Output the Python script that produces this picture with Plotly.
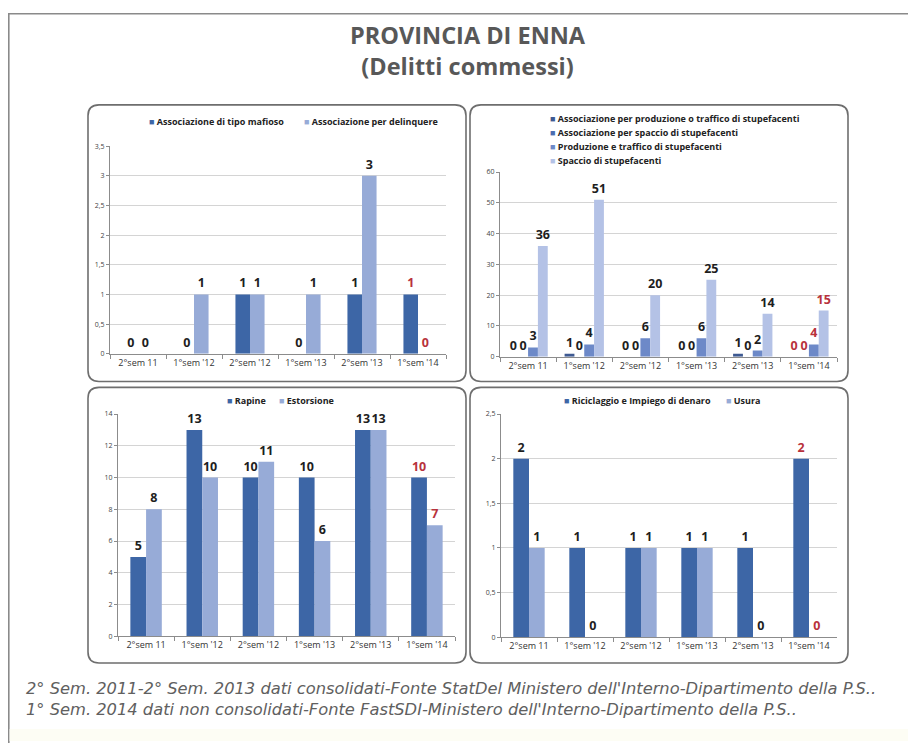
import plotly.graph_objects as go

# Reference canvas is 916x751; the page body adds an 8px margin, so the
# figure is drawn 900x735 and positioned from reference pixel (8, 8).
REF_W, REF_H = 916, 751
OFF = 8
W, H = REF_W - 2 * OFF, REF_H - 2 * OFF

categories = ["2°sem 11", "1°sem '12", "2°sem '12", "1°sem '13", "2°sem '13", "1°sem '14"]

# Panel 1
mafioso = [0, 0, 1, 0, 1, 1]
delinquere = [0, 1, 1, 1, 3, 0]
# Panel 2
assoc_prod_traffico = [0, 1, 0, 0, 1, 0]
assoc_spaccio = [0, 0, 0, 0, 0, 0]
prod_traffico = [3, 4, 6, 6, 2, 4]
spaccio = [36, 51, 20, 25, 14, 15]
# Panel 3
rapine = [5, 13, 10, 10, 13, 10]
estorsione = [8, 10, 11, 6, 13, 7]
# Panel 4
riciclaggio = [2, 1, 1, 1, 1, 2]
usura = [1, 0, 1, 1, 0, 0]

title_lines = ["PROVINCIA DI ENNA", "(Delitti commessi)"]
note_lines = [
    "2° Sem. 2011-2° Sem. 2013 dati consolidati-Fonte StatDel Ministero dell'Interno-Dipartimento della P.S..",
    "1° Sem. 2014 dati non consolidati-Fonte FastSDI-Ministero dell'Interno-Dipartimento della P.S..",
]

DARK = "#3d66a6"
LIGHT = "#97abd7"
RED = "#b8323c"
LABEL = "#1e1e1e"


def X(px):
    return (px - OFF) / W


def Y(py):
    return 1 - (py - OFF) / H


panels = [
    dict(ax="", box=(88, 101, 466, 381), xd=(110, 446), yd=(142.7, 353), rng=[0, 3.5], dtick=0.5,
         series=[("Associazione di tipo mafioso", mafioso, DARK),
                 ("Associazione per delinquere", delinquere, LIGHT)],
         bw=0.26, leg=[(147, 118), (302, 118)]),
    dict(ax="2", box=(470, 101, 848, 381), xd=(500, 837), yd=(169, 356), rng=[0, 60], dtick=10,
         series=[("Associazione per produzione o traffico di stupefacenti", assoc_prod_traffico, "#3e5a92"),
                 ("Associazione per spaccio di stupefacenti", assoc_spaccio, "#4a6db0"),
                 ("Produzione e traffico di stupefacenti", prod_traffico, "#6d89c8"),
                 ("Spaccio di stupefacenti", spaccio, "#b4c2e6")],
         bw=0.175, leg=[(548, 115), (548, 129), (548, 143), (548, 157)]),
    dict(ax="3", box=(88, 387, 466, 666), xd=(118, 455), yd=(414, 639), rng=[0, 14], dtick=2,
         series=[("Rapine", rapine, DARK), ("Estorsione", estorsione, LIGHT)],
         bw=0.28, leg=[(225, 400), (277, 400)]),
    dict(ax="4", box=(470, 387, 848, 666), xd=(501, 837), yd=(414, 640), rng=[0, 2.5], dtick=0.5,
         series=[("Riciclaggio e Impiego di denaro", riciclaggio, DARK), ("Usura", usura, LIGHT)],
         bw=0.28, leg=[(562, 400), (724, 400)]),
]

fig = go.Figure()
layout = dict(
    width=W, height=H, margin=dict(l=0, r=0, t=0, b=0),
    paper_bgcolor="white", plot_bgcolor="rgba(0,0,0,0)",
    separators=",.", showlegend=False, shapes=[], annotations=[],
    font=dict(family="Open Sans", color="#333"),
)


def rbox(x0, y0, x1, y1, r=11):
    return (f"M {X(x0 + r)},{Y(y0)} L {X(x1 - r)},{Y(y0)} Q {X(x1)},{Y(y0)} {X(x1)},{Y(y0 + r)} "
            f"L {X(x1)},{Y(y1 - r)} Q {X(x1)},{Y(y1)} {X(x1 - r)},{Y(y1)} "
            f"L {X(x0 + r)},{Y(y1)} Q {X(x0)},{Y(y1)} {X(x0)},{Y(y1 - r)} "
            f"L {X(x0)},{Y(y0 + r)} Q {X(x0)},{Y(y0)} {X(x0 + r)},{Y(y0)} Z")


# outer frame
layout["shapes"].append(dict(type="path", xref="paper", yref="paper", layer="below",
                             path=f"M {X(8.8)},{Y(760)} L {X(8.8)},{Y(8.8)} L {X(911.2)},{Y(8.8)} L {X(911.2)},{Y(760)}",
                             line=dict(color="#8a8a8a", width=1.6)))
layout["shapes"].append(dict(type="rect", xref="paper", yref="paper", layer="below",
                             x0=X(9.6), x1=X(910.4), y0=Y(745), y1=Y(733),
                             fillcolor="#fdfdf4", line=dict(width=0)))

for p in panels:
    xa = "x" + p["ax"]
    ya = "y" + p["ax"]
    n = len(p["series"])
    bw = p["bw"]
    for i, (name, vals, col) in enumerate(p["series"]):
        off = -n * bw / 2 + i * bw
        tcol = [LABEL] * (len(vals) - 1) + [RED]
        fig.add_trace(go.Bar(
            x=categories, y=vals, name=name, xaxis=xa, yaxis=ya,
            marker=dict(color=col, line=dict(width=0)),
            width=bw, offset=off,
            text=vals, textposition="outside", cliponaxis=False, constraintext="none",
            textfont=dict(family="Open Sans", size=12.5, color=tcol, weight="bold"),
            hoverinfo="skip",
        ))
        lx, ly = p["leg"][i]
        layout["annotations"].append(dict(
            text=f"<span style='color:{col}'>■</span> {name}",
            x=X(lx), y=Y(ly), xref="paper", yref="paper", showarrow=False,
            xanchor="left", yanchor="middle",
            font=dict(family="Open Sans", size=9, color="#222", weight="bold"),
        ))
    layout["xaxis" + p["ax"]] = dict(
        domain=[X(p["xd"][0]), X(p["xd"][1])], anchor=ya, type="category",
        showgrid=False, showline=True, linecolor="#8c8c8c", linewidth=1,
        ticks="outside", tickson="boundaries", ticklen=4, tickcolor="#8c8c8c",
        tickfont=dict(family="Open Sans", size=9, color="#333"), fixedrange=True,
    )
    layout["yaxis" + p["ax"]] = dict(
        domain=[Y(p["yd"][1]), Y(p["yd"][0])], anchor=xa, range=p["rng"], dtick=p["dtick"],
        showgrid=True, gridcolor="#d4d4d4", gridwidth=1, zeroline=False,
        showline=True, linecolor="#8c8c8c", linewidth=1,
        ticks="outside", ticklen=3, tickcolor="#8c8c8c",
        tickfont=dict(family="Open Sans", size=7, color="#444"), fixedrange=True,
    )
    layout["shapes"].append(dict(type="path", xref="paper", yref="paper", layer="below",
                                 path=rbox(*p["box"]), line=dict(color="#6e6e6e", width=1.6),
                                 fillcolor="white"))

layout["annotations"] += [
    dict(text="<br>".join(title_lines), x=X(467.5), y=Y(46), xref="paper", yref="paper",
         showarrow=False, xanchor="center", yanchor="middle", align="center",
         font=dict(family="Open Sans", size=23.5, color="#585858", weight="bold")),
    dict(text="<br>".join(note_lines), x=X(24), y=Y(702), xref="paper", yref="paper",
         showarrow=False, xanchor="left", yanchor="middle", align="left",
         font=dict(family="DejaVu Sans", size=16.3, color="#606060", style="italic")),
]

fig.update_layout(**layout)
fig.write_html("out.html")
